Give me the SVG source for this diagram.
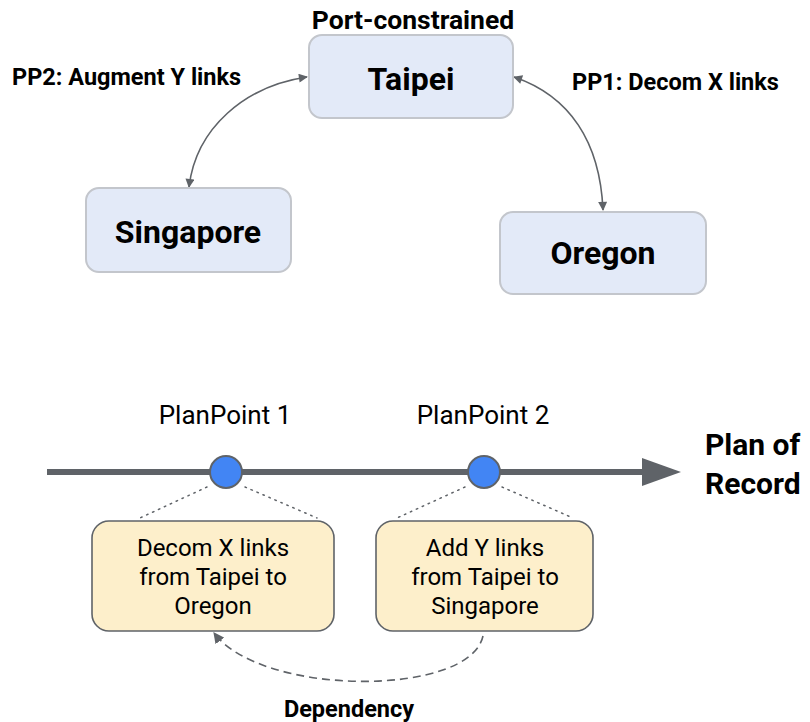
<svg xmlns="http://www.w3.org/2000/svg" width="810" height="722" viewBox="0 0 810 722">
  <defs>
    <style>
      .site { fill: #e3eaf8; stroke: #c3c6cc; stroke-width: 2; }
      .task { fill: #fdefcb; stroke: #5f6368; stroke-width: 1.6; }
      .big { font-family: Roboto, "Liberation Sans", sans-serif; font-weight: bold; font-size: 32px; fill: #000; text-anchor: middle; }
      .lbl { font-family: Roboto, "Liberation Sans", sans-serif; font-weight: bold; font-size: 23.5px; fill: #000; }
      .por { font-family: Roboto, "Liberation Sans", sans-serif; font-weight: bold; font-size: 30px; fill: #000; }
      .pt { font-family: Roboto, "Liberation Sans", sans-serif; font-size: 26px; fill: #000; text-anchor: middle; }
      .reg { font-family: Roboto, "Liberation Sans", sans-serif; font-size: 24px; fill: #000; text-anchor: middle; }
      .link { fill: none; stroke: #5f6368; stroke-width: 1.6; }
      .dot { fill: none; stroke: #5f6368; stroke-width: 1.5; stroke-dasharray: 1.5 5; stroke-linecap: round; }
      .pp { fill: #4285f4; stroke: #5f6368; stroke-width: 2; }
    </style>
    <marker id="tip" viewBox="0 0 10 10" refX="9" refY="5" markerWidth="10" markerHeight="9" markerUnits="userSpaceOnUse" orient="auto-start-reverse">
      <path d="M0,0 L10,5 L0,10 z" fill="#5f6368"/>
    </marker>
    <marker id="tip2" viewBox="0 0 10 10" refX="9" refY="5" markerWidth="11" markerHeight="11" markerUnits="userSpaceOnUse" orient="auto">
      <path d="M0,0 L10,5 L0,10 z" fill="#5f6368"/>
    </marker>
  </defs>

  <!-- site connectors and timeline links -->
  <g id="connectors">
    <path class="link" d="M307,77 C245,86 196,128 189,187" marker-start="url(#tip)" marker-end="url(#tip)"/>
    <path class="link" d="M514,77 C570,96 600,142 603,210" marker-start="url(#tip)" marker-end="url(#tip)"/>
    <line class="dot" x1="207" y1="487" x2="140" y2="518"/>
    <line class="dot" x1="245" y1="487" x2="317" y2="518"/>
    <line class="dot" x1="465" y1="487" x2="397" y2="518"/>
    <line class="dot" x1="502" y1="487" x2="573" y2="518"/>
    <path class="link" d="M483,636 C470,697 262,697 214,633" stroke-dasharray="8 5" marker-end="url(#tip2)"/>
  </g>

  <g id="taipei">
    <text class="lbl" x="413" y="29" text-anchor="middle" style="font-size:26.5px">Port-constrained</text>
    <rect class="site" x="309" y="35" width="204" height="83" rx="13"/>
    <text class="big" x="411" y="90">Taipei</text>
  </g>
  <g id="singapore">
    <rect class="site" x="86" y="188" width="205" height="84" rx="13"/>
    <text class="big" x="188" y="243">Singapore</text>
  </g>
  <g id="oregon">
    <rect class="site" x="500" y="212" width="206" height="82" rx="13"/>
    <text class="big" x="603" y="264">Oregon</text>
  </g>
  <text class="lbl" x="12" y="85">PP2: Augment Y links</text>
  <text class="lbl" x="572" y="90">PP1: Decom X links</text>

  <!-- plan of record timeline -->
  <g id="timeline">
    <line x1="47" y1="472" x2="645" y2="472" stroke="#5f6368" stroke-width="6"/>
    <path d="M642,458 L681,472 L642,486 z" fill="#5f6368"/>
    <text class="por" x="705" y="455">Plan of</text>
    <text class="por" x="705" y="494">Record</text>
  </g>
  <g id="planpoint1">
    <text class="pt" x="225" y="424">PlanPoint 1</text>
    <circle class="pp" cx="226" cy="472" r="16"/>
  </g>
  <g id="planpoint2">
    <text class="pt" x="483" y="424">PlanPoint 2</text>
    <circle class="pp" cx="484" cy="472" r="16"/>
  </g>
  <g id="task1">
    <rect class="task" x="92" y="521" width="242" height="110" rx="17"/>
    <text class="reg" x="213" y="556">Decom X links</text>
    <text class="reg" x="213" y="585">from Taipei to</text>
    <text class="reg" x="213" y="614">Oregon</text>
  </g>
  <g id="task2">
    <rect class="task" x="376" y="521" width="217" height="110" rx="17"/>
    <text class="reg" x="485" y="556">Add Y links</text>
    <text class="reg" x="485" y="585">from Taipei to</text>
    <text class="reg" x="485" y="614">Singapore</text>
  </g>
  <text class="lbl" x="349" y="717" text-anchor="middle">Dependency</text>
</svg>
